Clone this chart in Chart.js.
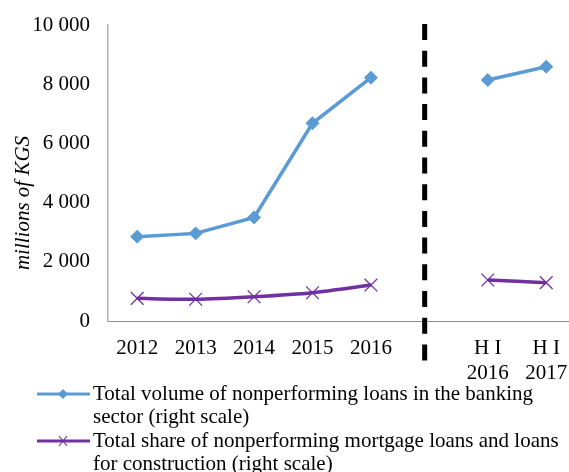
<!DOCTYPE html>
<html>
<head>
<meta charset="utf-8">
<script src="https://cdn.jsdelivr.net/npm/chart.js@4/dist/chart.umd.min.js"></script>
<style>
  html, body { margin: 0; padding: 0; overflow: hidden; background: #fff; }
</style>
</head>
<body>
<canvas id="chartCanvas" width="569" height="472"></canvas>
<script>
// 카테고리 (5번째 자리는 점선 구분용 빈칸)
const categories = ['2012', '2013', '2014', '2015', '2016', '', ['H I', '2016'], ['H I', '2017']];
// 은행 부문 부실대출 총량 (백만 KGS)
const totalNpl = [2850, 2960, 3500, 6680, 8220, null, 8140, 8590];
// 주택담보/건설 부실대출
const mortgageNpl = [765, 735, 820, 955, 1215, null, 1385, 1295];
const yTicks = [0, 2000, 4000, 6000, 8000, 10000];
const legendLines = [
  ['Total volume of nonperforming loans in the banking', 'sector (right scale)'],
  ['Total share of nonperforming mortgage loans and loans', 'for construction (right scale)']
];
const yTitle = 'millions of KGS';

const FONT = '"Liberation Serif", "Times New Roman", serif';
const BLUE = '#5B9BD5';
const PURPLE = '#7030A0';

// 카테고리 위치(인덱스)로 점 만들기
const toPoints = arr => arr.map((v, i) => ({ x: i, y: v }));

// 세로 점선 + 축 제목 + 범례
const extras = {
  id: 'extras',
  afterDatasetsDraw(chart) {
    const ctx = chart.ctx;
    const x = chart.scales.x;
    const px = x.getPixelForValue(4.92);

    ctx.save();
    ctx.strokeStyle = '#000';
    ctx.lineWidth = 5;
    ctx.setLineDash([16, 10.7]);
    ctx.beginPath();
    ctx.moveTo(px, 24);
    ctx.lineTo(px, 362);
    ctx.stroke();
    ctx.restore();

    // y축 제목
    ctx.save();
    ctx.translate(23, 203);
    ctx.rotate(-Math.PI / 2);
    ctx.font = 'italic 21px ' + FONT;
    ctx.fillStyle = '#000';
    ctx.textAlign = 'center';
    ctx.textBaseline = 'middle';
    ctx.fillText(yTitle, 0, 0);
    ctx.restore();

    // 범례
    const rows = [394, 441];
    const colors = [BLUE, PURPLE];
    ctx.save();
    rows.forEach((y, i) => {
      ctx.strokeStyle = colors[i];
      ctx.lineWidth = 3;
      ctx.beginPath();
      ctx.moveTo(37, y);
      ctx.lineTo(90, y);
      ctx.stroke();
      if (i === 0) {
        ctx.fillStyle = BLUE;
        ctx.beginPath();
        ctx.moveTo(63, y - 5); ctx.lineTo(68, y); ctx.lineTo(63, y + 5); ctx.lineTo(58, y);
        ctx.closePath(); ctx.fill();
      } else {
        ctx.lineWidth = 1.2;
        ctx.beginPath();
        ctx.moveTo(59, y - 5); ctx.lineTo(67, y + 5);
        ctx.moveTo(67, y - 5); ctx.lineTo(59, y + 5);
        ctx.stroke();
      }
      ctx.fillStyle = '#000';
      ctx.font = '21px ' + FONT;
      ctx.textBaseline = 'middle';
      ctx.textAlign = 'left';
      legendLines[i].forEach((t, j) => ctx.fillText(t, 93, y + j * 23));
    });
    ctx.restore();
  }
};

new Chart(document.getElementById('chartCanvas').getContext('2d'), {
  type: 'line',
  data: {
    datasets: [
      {
        label: legendLines[0].join(' '),
        data: toPoints(totalNpl),
        borderColor: BLUE,
        backgroundColor: BLUE,
        borderWidth: 3.5,
        pointStyle: 'rectRot',
        pointRadius: 6.5,
        pointBorderWidth: 1,
        spanGaps: false,
        tension: 0
      },
      {
        label: legendLines[1].join(' '),
        data: toPoints(mortgageNpl),
        borderColor: PURPLE,
        backgroundColor: PURPLE,
        borderWidth: 3.5,
        pointStyle: 'crossRot',
        pointRadius: 9,
        pointBorderWidth: 1.3,
        spanGaps: false,
        tension: 0.2
      }
    ]
  },
  options: {
    responsive: false,
    animation: false,
    layout: { autoPadding: false, padding: { top: 25, right: 0, bottom: 81, left: 0 } },
    plugins: {
      legend: { display: false },
      tooltip: { enabled: false }
    },
    scales: {
      x: {
        type: 'linear',
        min: -0.5,
        max: 7.39,
        afterBuildTicks(s) {
          s.ticks = categories.map((c, i) => ({ value: i })).filter(t => categories[t.value] !== '');
        },
        // 눈금선은 투명, tickLength로 라벨 간격만 확보
        grid: { display: true, color: 'rgba(0,0,0,0)', drawTicks: true, tickLength: 15 },
        border: { display: true, color: '#8c8c8c', width: 1 },
        ticks: {
          color: '#000',
          font: { family: FONT, size: 21, lineHeight: 1.2 },
          padding: 0,
          maxRotation: 0,
          autoSkip: false,
          callback: v => categories[v]
        },
        afterFit(s) { s.height = 70; }
      },
      y: {
        min: 0,
        max: 10000,
        afterBuildTicks(s) { s.ticks = yTicks.map(v => ({ value: v })); },
        grid: { display: false, drawTicks: false },
        border: { display: true, color: '#b0b0b0', width: 1.5 },
        ticks: {
          color: '#000',
          font: { family: FONT, size: 21 },
          padding: 18,
          callback: v => String(v).replace(/\B(?=(\d{3})+(?!\d))/g, ' ')
        },
        afterFit(s) { s.width = 108; s.paddingTop = 0; s.paddingBottom = 0; }
      }
    }
  },
  plugins: [extras]
});
</script>
</body>
</html>
